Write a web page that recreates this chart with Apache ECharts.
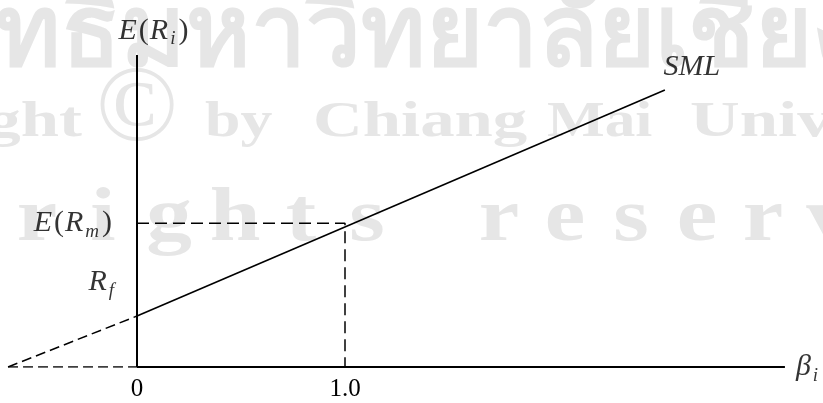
<!DOCTYPE html>
<html>
<head>
<meta charset="utf-8">
<script src="https://cdn.jsdelivr.net/npm/echarts@6/dist/echarts.min.js"></script>
<style>
  html, body { margin: 0; padding: 0; background: #fff; }
  #chart { width: 823px; height: 403px; }
</style>
</head>
<body>
<div id="chart"></div>
<script>
// 数据
var betaTicks = [0, 1.0];
var rf = 0.05;          // 无风险收益
var marketBeta = 1.0;
var marketReturn = 0.141;
var smlBeta = [0, 2.538];
var smlReturn = [0.05, 0.2716];
var extBeta = [-0.62, 0];
var extReturn = [0, 0.05];
var xAxisEnd = 3.115;
var yAxisTop = 0.306;

var serif = '"Liberation Serif", "Times New Roman", serif';

var chart = echarts.init(document.getElementById('chart'));

var rich = {
  it: { fontFamily: serif, fontStyle: 'italic', fontSize: 30, color: '#000', lineHeight: 36, verticalAlign: 'middle', padding: [0, 2, 0, 0] },
  n: { fontFamily: serif, fontSize: 30, color: '#000', lineHeight: 36, verticalAlign: 'middle', padding: [0, 1, 0, 0] },
  sub: { fontFamily: serif, fontStyle: 'italic', fontSize: 19, color: '#000', lineHeight: 18, verticalAlign: 'bottom', padding: [0, 3, 0, 0] }
};

function pts(xs, ys) {
  return xs.map(function (x, i) { return [x, ys[i]]; });
}

// 水印（背景灰字）
var wmFill = '#e6e6e6';
var wmShadow = '#f1f1f1';
function wmText(text, x, y, size, opts) {
  opts = opts || {};
  return {
    type: 'text', x: x, y: y, z: -10, silent: true,
    scaleX: opts.scaleX || 1, scaleY: opts.scaleY || 1,
    style: {
      text: text, x: 0, y: 0,
      fontFamily: opts.font || serif,
      fontWeight: opts.weight || 'bold',
      fontSize: size,
      fill: wmFill,
      align: opts.align || 'left',
      verticalAlign: opts.vAlign || 'top',
      textShadowColor: wmShadow,
      textShadowOffsetX: 4,
      textShadowOffsetY: 3,
      textShadowBlur: 0
    }
  };
}

var watermark = [];
watermark.push(wmText('ลิขสิทธิ์มหาวิทยาลัยเชียงใหม่', -191, -9, 98));
watermark.push(wmText('Copyright', 82, 97, 51, { align: 'right', scaleX: 1.35 }));
watermark.push(wmText('\u00a9', 137, 112, 108, { align: 'center', vAlign: 'middle', weight: 'normal' }));
watermark.push(wmText('by', 205, 97, 51, { scaleX: 1.25 }));
watermark.push(wmText('Chiang', 313, 97, 51, { scaleX: 1.35 }));
watermark.push(wmText('Mai', 547, 97, 51, { scaleX: 1.2 }));
watermark.push(wmText('University', 690, 97, 51, { scaleX: 1.35 }));
var wmLine3 = 'All rights reserved';
for (var k = 0; k < wmLine3.length; k++) {
  if (wmLine3[k] === ' ') continue;
  watermark.push(wmText(wmLine3[k], 37 + (k - 4) * 66, 182, 76, { align: 'center', scaleX: 1.2 }));
}

var option = {
  animation: false,
  backgroundColor: '#fff',
  graphic: watermark,
  grid: { left: 1.8, right: 30.8, top: 10, bottom: 36 },
  xAxis: {
    type: 'value',
    min: -0.65,
    max: 3.15,
    splitLine: { show: false },
    axisLine: { show: false },
    axisTick: { show: false },
    axisLabel: {
      customValues: betaTicks,
      margin: 10,
      fontFamily: serif,
      fontSize: 25,
      color: '#000',
      formatter: function (v) { return v === 0 ? '0' : v.toFixed(1); }
    }
  },
  yAxis: {
    type: 'value',
    min: 0,
    max: 0.35,
    show: false
  },
  series: [
    { // x 轴实线
      type: 'line', symbol: 'none', z: 3,
      lineStyle: { color: '#000', width: 2 },
      data: pts([0, xAxisEnd], [0, 0])
    },
    { // x 轴左侧虚线
      type: 'line', symbol: 'none',
      lineStyle: { color: '#000', width: 1.5, type: [10, 5] },
      data: pts([extBeta[0], 0], [0, 0])
    },
    { // y 轴
      type: 'line', symbol: 'none', z: 3,
      lineStyle: { color: '#000', width: 2 },
      data: pts([0, 0], [0, yAxisTop])
    },
    { // SML
      type: 'line', symbol: 'none',
      lineStyle: { color: '#000', width: 1.6 },
      data: pts(smlBeta, smlReturn)
    },
    { // SML 延长虚线
      type: 'line', symbol: 'none',
      lineStyle: { color: '#000', width: 1.5, type: [10, 5] },
      data: pts(extBeta, extReturn)
    },
    { // 市场组合虚线
      type: 'line', symbol: 'none',
      lineStyle: { color: '#000', width: 1.5, type: [12, 6] },
      data: pts([0, marketBeta, marketBeta], [marketReturn, marketReturn, 0])
    },
    { // 文字标注
      type: 'scatter', symbolSize: 0, z: 5,
      data: [
        { value: [0, yAxisTop], label: { show: true, position: 'top', distance: 6, offset: [17, 0],
          formatter: '{it|E}{n|(}{it|R}{sub|i}{n|)}', rich: rich } },
        { value: [0, marketReturn], label: { show: true, position: 'left', distance: 24,
          formatter: '{it|E}{n|(}{it|R}{sub|m}{n|)}', rich: rich } },
        { value: [0, rf], label: { show: true, position: 'left', distance: 20, offset: [0, -34],
          formatter: '{it|R}{sub|f}', rich: rich } },
        { value: [smlBeta[1], smlReturn[1]], label: { show: true, position: 'top', distance: 5, offset: [28, 0],
          formatter: '{it|SML}', rich: rich } },
        { value: [xAxisEnd, 0], label: { show: true, position: 'right', distance: 11,
          formatter: '{it|\u03b2}{sub|i}', rich: rich } }
      ]
    }
  ]
};

chart.setOption(option);
</script>
</body>
</html>
